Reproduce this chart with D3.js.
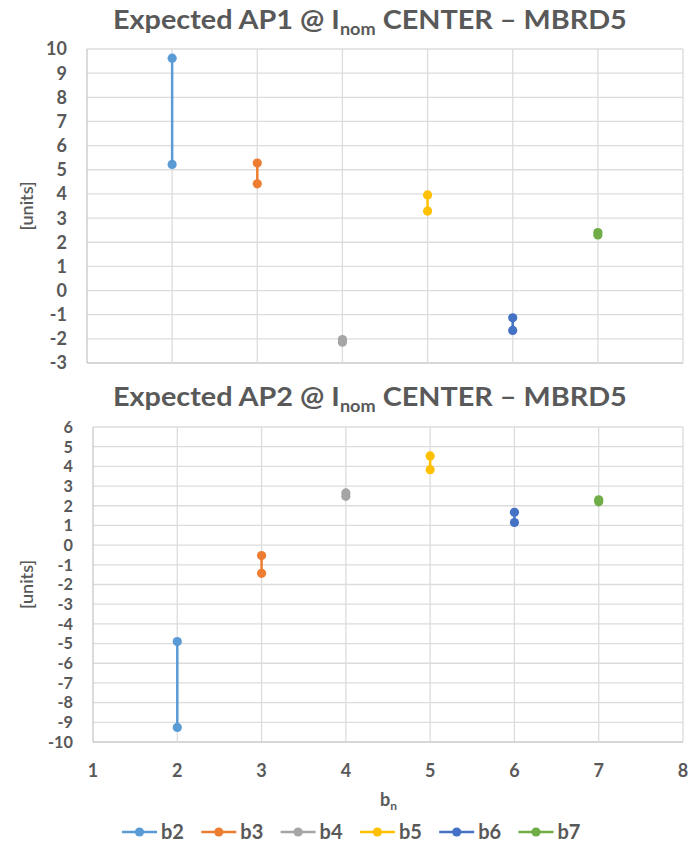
<!DOCTYPE html>
<html>
<head>
<meta charset="utf-8">
<script src="https://cdn.jsdelivr.net/npm/d3@7"></script>
<style>
  html, body { margin: 0; padding: 0; background: #fff; }
  svg { display: block; }
  text { font-family: Lato, "Open Sans", sans-serif; font-weight: 700; fill: #595959; }
</style>
</head>
<body>
<svg id="chart" width="693" height="850"></svg>
<script>
// ---- Data ----
const categories = ["b2", "b3", "b4", "b5", "b6", "b7"];
const bnValues = [2, 3, 4, 5, 6, 7];
const colors = ["#5B9BD5", "#ED7D31", "#A5A5A5", "#FFC000", "#4472C4", "#70AD47"];

const ap1First  = [9.62, 5.28, -2.03, 3.96, -1.13, 2.40];
const ap1Second = [5.22, 4.42, -2.14, 3.29, -1.65, 2.30];

const ap2First  = [-4.90, -0.53, 2.65, 4.53, 1.67, 2.30];
const ap2Second = [-9.26, -1.43, 2.48, 3.83, 1.15, 2.20];

const xTicks = [1, 2, 3, 4, 5, 6, 7, 8];
const yTicks1 = [-3, -2, -1, 0, 1, 2, 3, 4, 5, 6, 7, 8, 9, 10];
const yTicks2 = [-10, -9, -8, -7, -6, -5, -4, -3, -2, -1, 0, 1, 2, 3, 4, 5, 6];

const titles = ["Expected AP1 @ I", "Expected AP2 @ I"];

const svg = d3.select("#chart");

function drawPanel(cfg) {
  const x = d3.scaleLinear().domain([1, 8]).range([cfg.left, cfg.right]);
  const y = d3.scaleLinear().domain(cfg.yDomain).range([cfg.bottom, cfg.top]);
  const g = svg.append("g");

  // horizontal gridlines
  g.append("g").selectAll("line").data(cfg.yTicks).join("line")
    .attr("x1", cfg.left).attr("x2", cfg.right)
    .attr("y1", d => y(d)).attr("y2", d => y(d))
    .attr("stroke", d => d === cfg.yDomain[0] ? "#C8C8C8" : "#DCDCDC")
    .attr("stroke-width", 1.3);
  // vertical gridlines
  g.append("g").selectAll("line").data(xTicks).join("line")
    .attr("x1", d => x(d)).attr("x2", d => x(d))
    .attr("y1", cfg.top).attr("y2", cfg.bottom)
    .attr("stroke", d => d === 1 ? "#C8C8C8" : "#DCDCDC")
    .attr("stroke-width", 1.3);

  // y tick labels
  g.append("g").selectAll("text").data(cfg.yTicks).join("text")
    .attr("x", cfg.labelX).attr("y", d => y(d))
    .attr("dy", "0.36em")
    .attr("text-anchor", "end")
    .style("font-size", cfg.tickSize + "px")
    .text(d => d);

  // y axis title
  g.append("text")
    .attr("transform", `translate(${cfg.unitsX},${(cfg.top + cfg.bottom) / 2}) rotate(-90)`)
    .attr("text-anchor", "middle")
    .attr("dy", "0.35em")
    .style("font-size", "18px")
    .style("font-weight", 600)
    .text("[units]");

  if (cfg.showX) {
    g.append("g").selectAll("text").data(xTicks).join("text")
      .attr("x", d => x(d)).attr("y", cfg.bottom + 29)
      .attr("dy", "0.36em")
      .attr("text-anchor", "middle")
      .style("font-size", "18px")
      .text(d => d);
  }

  // series
  categories.forEach((c, i) => {
    const pts = [cfg.first[i], cfg.second[i]];
    g.append("line")
      .attr("x1", x(bnValues[i])).attr("x2", x(bnValues[i]))
      .attr("y1", y(pts[0])).attr("y2", y(pts[1]))
      .attr("stroke", colors[i]).attr("stroke-width", 2.5);
    g.append("g").selectAll("circle").data(pts).join("circle")
      .attr("cx", x(bnValues[i])).attr("cy", d => y(d))
      .attr("r", 4.6).attr("fill", colors[i]);
  });

  // title
  const t = g.append("text")
    .attr("x", 0).attr("y", 0)
    .style("font-size", "27px");
  t.append("tspan").text(cfg.title);
  t.append("tspan").attr("dy", 6).style("font-size", "17px").text("nom");
  t.append("tspan").attr("dy", -6).text(" CENTER \u2013 MBRD5");
  const w = t.node().getComputedTextLength();
  const sx = cfg.titleWidth / w;
  t.attr("transform", `translate(${cfg.titleCx - cfg.titleWidth / 2},${cfg.titleY}) scale(${sx},1)`);
}

drawPanel({
  left: 87, right: 683, top: 49, bottom: 363,
  yDomain: [-3, 10], yTicks: yTicks1, tickSize: 18,
  labelX: 67, unitsX: 27, showX: false,
  first: ap1First, second: ap1Second,
  title: titles[0], titleCx: 370, titleY: 29, titleWidth: 514
});

drawPanel({
  left: 93, right: 683, top: 427, bottom: 742,
  yDomain: [-10, 6], yTicks: yTicks2, tickSize: 16.3,
  labelX: 73, unitsX: 27, showX: true,
  first: ap2First, second: ap2Second,
  title: titles[1], titleCx: 370, titleY: 406, titleWidth: 514
});

// x axis title b_n
const bt = svg.append("text").attr("x", 380).attr("y", 806).style("font-size", "18px");
bt.append("tspan").text("b");
bt.append("tspan").attr("dy", 4).style("font-size", "12px").text("n");

// legend
const legend = svg.append("g").attr("transform", "translate(122,832)");
const item = legend.selectAll("g").data(categories).join("g")
  .attr("transform", (d, i) => `translate(${i * 79.3},0)`);
item.append("line").attr("x1", 0).attr("x2", 35).attr("y1", 0).attr("y2", 0)
  .attr("stroke", (d, i) => colors[i]).attr("stroke-width", 2.5);
item.append("circle").attr("cx", 17.5).attr("cy", 0).attr("r", 4.6)
  .attr("fill", (d, i) => colors[i]);
item.append("text").attr("x", 39).attr("y", 0).attr("dy", "0.36em")
  .style("font-size", "20px").text(d => d);
</script>
</body>
</html>
